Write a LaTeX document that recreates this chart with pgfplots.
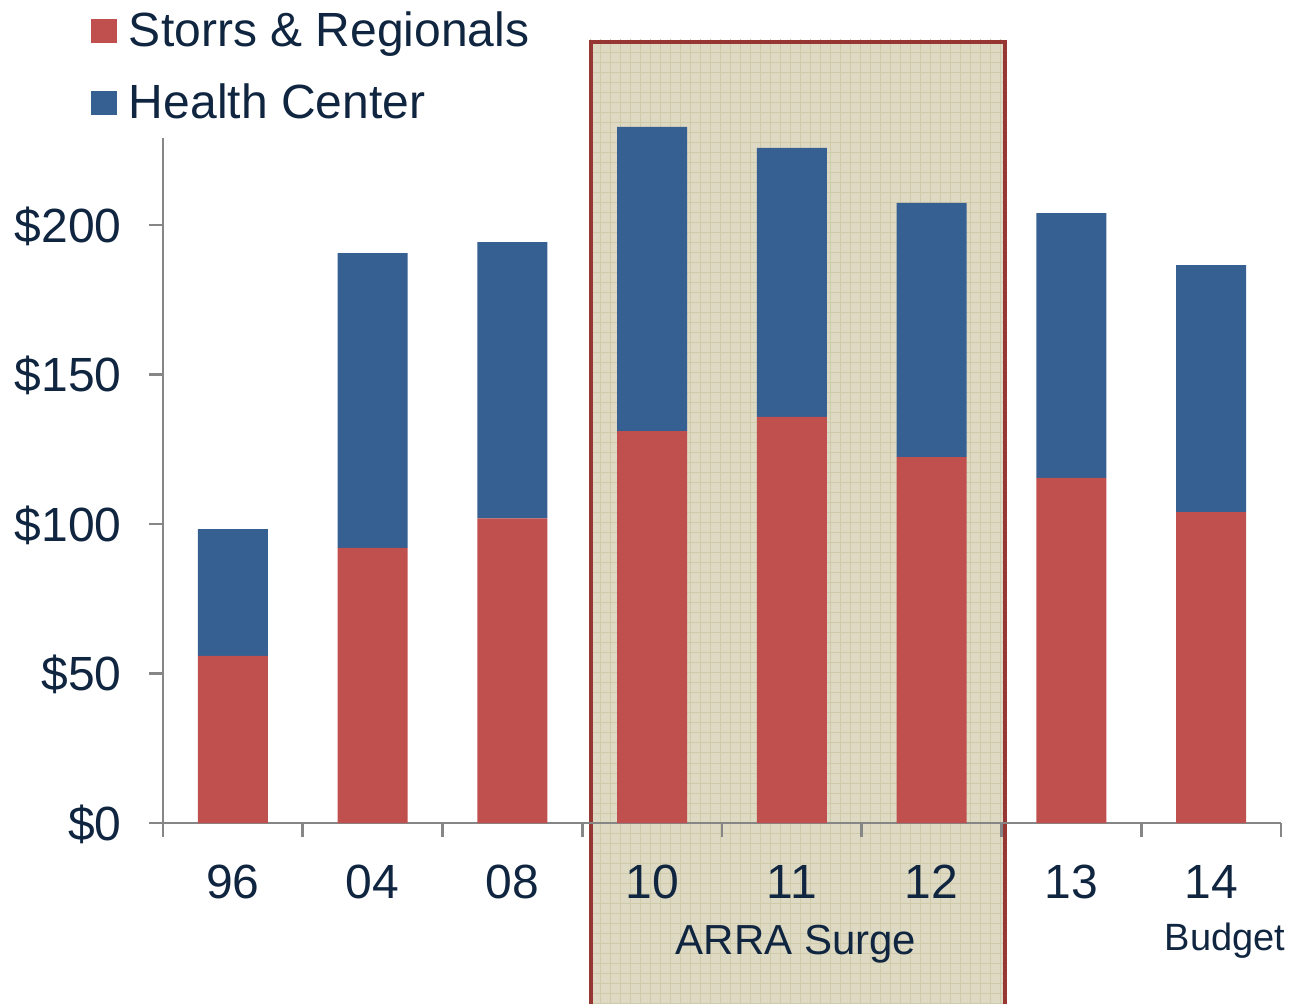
\documentclass[border=0pt]{standalone}
\usepackage{pgfplots}
\pgfplotsset{compat=1.18}
\usepackage{fontspec}
\setmainfont{Liberation Sans}
\definecolor{redbar}{RGB}{192,80,77}
\definecolor{bluebar}{RGB}{54,96,146}
\definecolor{navy}{RGB}{16,37,63}
\definecolor{axisgray}{RGB}{134,134,134}
\definecolor{beige}{RGB}{221,217,195}
\definecolor{beigeline}{RGB}{207,202,170}
\definecolor{borderred}{RGB}{150,55,52}
\begin{document}
\begin{tikzpicture}
\path[use as bounding box] (0,0) rectangle (646pt,501.5pt);
% shaded "ARRA Surge" band (pixel/2 coordinates)
\fill[beige] (294.5pt,-5pt) rectangle (503.5pt,481.5pt);
\begin{scope}
\clip (294.5pt,-5pt) rectangle (503.5pt,481.5pt);
\draw[beigeline, line width=0.5pt, step=5pt] (290pt,-5pt) grid (505pt,485pt);
\end{scope}
\draw[borderred, line width=2pt] (295.5pt,-5pt) -- (295.5pt,480.5pt) -- (502.5pt,480.5pt) -- (502.5pt,-5pt);
\begin{axis}[
  at={(81.5pt,90pt)}, anchor=south west,
  width=559pt, height=342.5pt, scale only axis,
  clip=false,
  ybar stacked, bar width=35pt,
  xmin=-0.5, xmax=7.5, ymin=0, ymax=229.1,
  axis x line*=bottom, axis y line*=left,
  axis line style={axisgray, line width=1.3pt, -},
  xtick={-0.5,0.5,...,7.5},
  x tick label as interval,
  xticklabels={96,04,08,10,11,12,13,14},
  ytick={0,50,100,150,200},
  yticklabels={\$0,\$50,\$100,\$150,\$200},
  tick align=outside,
  major tick length=7pt,
  tick style={axisgray, line width=1.3pt},
  /pgf/number format/assume math mode=true,
  ticklabel style={font=\fontsize{24}{28}\selectfont, text=navy, inner sep=0pt},
  xticklabel style={anchor=north, yshift=-14pt},
  yticklabel style={anchor=base east, xshift=-13.5pt, yshift=-8.6pt},
  legend style={at={(-0.0644,1.19)}, anchor=north west, draw=none, fill=none,
    font=\fontsize{24}{28}\selectfont, text=navy, inner sep=0pt, outer sep=0pt,
    row sep=13pt},
  legend cell align=left,
  legend image code/.code={\fill[#1] (0pt,-6pt) rectangle (13pt,6pt); \path (17pt,0pt);},
]
\addplot[fill=redbar, draw=none] coordinates {(0,55.9) (1,92) (2,101.9) (3,131.1) (4,135.8) (5,122.4) (6,115.4) (7,104)};
\addplot[fill=bluebar, draw=none] coordinates {(0,42.4) (1,98.6) (2,92.4) (3,101.7) (4,90) (5,85) (6,88.6) (7,82.6)};
\legend{Storrs \& Regionals, Health Center}
\node[font=\fontsize{21}{25}\selectfont, text=navy, anchor=base] at (axis cs:4.03,-44.1) {ARRA Surge};
\node[font=\fontsize{19}{23}\selectfont, text=navy, anchor=base] at (axis cs:7.1,-42.5) {Budget};
\end{axis}
\end{tikzpicture}
\end{document}
